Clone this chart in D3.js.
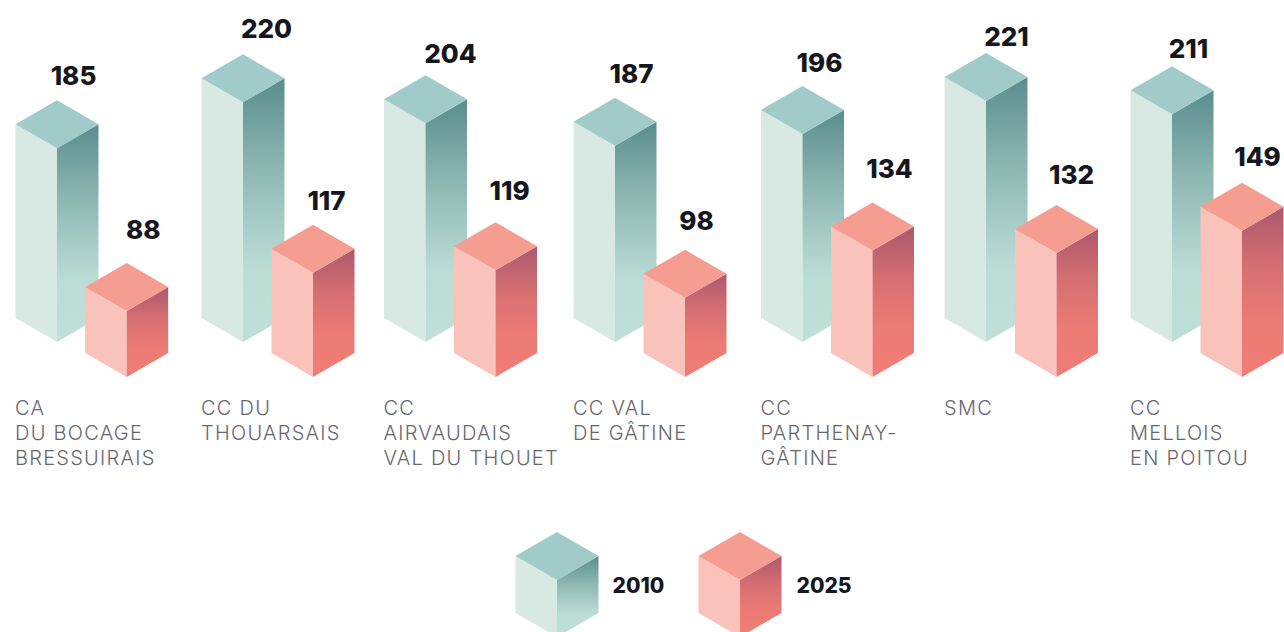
<!DOCTYPE html>
<html><head><meta charset="utf-8">
<script src="https://cdn.jsdelivr.net/npm/d3@7/dist/d3.min.js"></script>
<style>html,body{margin:0;padding:0;background:#fff;overflow:hidden}svg{display:block}</style>
</head><body><div id="chart"></div>
<script>
const categories = ["CA|DU BOCAGE|BRESSUIRAIS","CC DU|THOUARSAIS","CC|AIRVAUDAIS|VAL DU THOUET","CC VAL|DE GÂTINE","CC|PARTHENAY-|GÂTINE","SMC","CC|MELLOIS|EN POITOU"];
const values2010 = [185,220,204,187,196,221,211];
const values2025 = [88,117,119,98,134,132,149];
const legendLabels = ["2010","2025"];

// layout (separate from the data)
const W=1284,H=632,HALF=41.5,DEPTH=24;
const x2010=d3.scaleOrdinal().domain(categories).range([57,243,425.5,615,802.5,986,1172]);
const x2025=d3.scaleOrdinal().domain(categories).range([126.7,313,495.5,685,872.5,1056.5,1242]);
const h=d3.scaleLinear().domain([88,221]).range([66,241]);
const labelDx2010=[16.5,23.5,25,16.5,17,20.5,16.5], labelDy2010=[15,16,12,15,14,7,8];
const labelDx2025=[16.5,13.5,14,11.5,17,15,15.5], labelDy2025=[24,15,22,20,24,21,17];
const labelFont="Inter, sans-serif";

const svg=d3.select("#chart").append("svg").attr("width",W).attr("height",H);
const defs=svg.append("defs");
function grad(id,stops){
  const g=defs.append("linearGradient").attr("id",id).attr("x1",0).attr("y1",0).attr("x2",0).attr("y2",1);
  stops.forEach(s=>g.append("stop").attr("offset",s[0]).attr("stop-color",s[1]));
}
grad("gt",[[0,"#5a8d8e"],[0.35,"#8fb8b3"],[0.72,"#bbddd6"],[1,"#bfe0d9"]]);
grad("gr",[[0,"#ad586c"],[0.35,"#d66f72"],[0.68,"#ec7b75"],[1,"#f17d75"]]);
const pal={t:{left:"#d8e9e4",top:"#a0cbc8",right:"url(#gt)"},r:{left:"#f9c2ba",top:"#f69d91",right:"url(#gr)"}};
const poly=pts=>pts.map(p=>p.join(",")).join(" ");
function cube(g,cx,base,ht,c){
  const top=base-ht;
  g.append("polygon").attr("fill",c.left).attr("points",poly([[cx-HALF,top-DEPTH],[cx,top],[cx,base],[cx-HALF,base-DEPTH]]));
  g.append("polygon").attr("fill",c.right).attr("points",poly([[cx,top],[cx+HALF,top-DEPTH],[cx+HALF,base-DEPTH],[cx,base]]));
  g.append("polygon").attr("fill",c.top).attr("points",poly([[cx,top],[cx-HALF,top-DEPTH],[cx,top-2*DEPTH],[cx+HALF,top-DEPTH]]));
}
function num(x,y,t,size){
  svg.append("text").attr("x",x).attr("y",y).attr("text-anchor","middle")
    .attr("font-family",labelFont).attr("font-weight",800).attr("font-size",size)
    .attr("fill","#16161f").text(t);
}
categories.forEach((c,i)=>{
  const g=svg.append("g");
  const h1=h(values2010[i]),h2=h(values2025[i]);
  cube(g,x2010(c),342,h1,pal.t);
  cube(g,x2025(c),377,h2,pal.r);
  num(x2010(c)+labelDx2010[i],342-h1-48-labelDy2010[i],values2010[i],26);
  num(x2025(c)+labelDx2025[i],377-h2-48-labelDy2025[i],values2025[i],26);
  c.split("|").forEach((line,k)=>{
    svg.append("text").attr("x",x2010(c)-42).attr("y",414.5+25*k)
      .attr("font-family",labelFont).attr("font-weight",300).attr("font-size",20)
      .attr("letter-spacing",1.25).attr("fill","#66666c").text(line);
  });
});
[[557,pal.t,612.5],[740,pal.r,796.5]].forEach((l,i)=>{
  cube(svg.append("g"),l[0],637,57,l[1]);
  svg.append("text").attr("x",l[2]).attr("y",592.5).attr("font-family",labelFont).attr("font-weight",800)
    .attr("font-size",21).attr("fill","#16161f").text(legendLabels[i]);
});
</script></body></html>
